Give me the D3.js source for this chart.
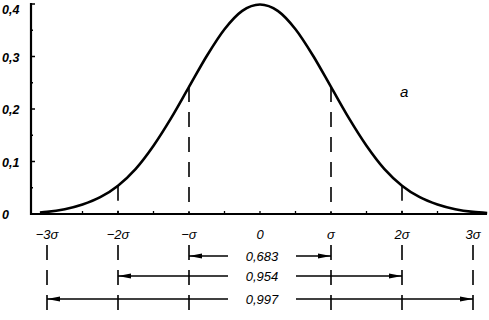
<!DOCTYPE html>
<html>
<head>
<meta charset="utf-8">
<script src="https://cdn.jsdelivr.net/npm/d3@7"></script>
<style>
  body { margin: 0; background: #fff; }
  svg text { font-family: "Liberation Sans", Arial, sans-serif; font-style: italic; fill: #000; }
</style>
</head>
<body>
<div id="chart"></div>
<script>
// curve values (sigma units, density)
var curveX = [-3.1, -3, -2.75, -2.5, -2.25, -2, -1.75, -1.5, -1.25, -1, -0.75, -0.5, -0.25, 0,
              0.25, 0.5, 0.75, 1, 1.25, 1.5, 1.75, 2, 2.25, 2.5, 2.75, 3, 3.2]
var curveY = [0.003, 0.004, 0.009, 0.018, 0.032, 0.054, 0.086, 0.130, 0.183, 0.242, 0.301, 0.352, 0.387, 0.399,
              0.387, 0.352, 0.301, 0.242, 0.183, 0.130, 0.086, 0.054, 0.032, 0.018, 0.009, 0.004, 0.002]

var sigmaTicks = [-3, -2, -1, 0, 1, 2, 3]
var sigmaLabels = ["−3σ", "−2σ", "−σ", "0", "σ", "2σ", "3σ"]
var yTicks = [0, 0.1, 0.2, 0.3, 0.4]
var yLabels = ["0", "0,1", "0,2", "0,3", "0,4"]

var intFrom = [-1, -2, -3]
var intTo = [1, 2, 3]
var intLabels = ["0,683", "0,954", "0,997"]

var width = 489, height = 320

var svg = d3.select("#chart").append("svg")
    .attr("width", width)
    .attr("height", height)

var x = d3.scaleLinear().domain([-3, 3]).range([47, 473])
var y = d3.scaleLinear().domain([0, 0.4]).range([214, 4])

var axisX0 = 31

// dashed verticals at the sigma marks: above the axis down from the curve, below it under the labels
var dashes = svg.append("g")
function dash(xx, y1, y2){
    dashes.append("line")
        .attr("x1", xx).attr("x2", xx)
        .attr("y1", y1).attr("y2", y2)
        .attr("stroke", "#000")
        .attr("stroke-width", 1.6)
        .attr("stroke-dasharray", "15,10")
}
sigmaTicks.forEach(function(s, i){
    if (s == 0) return
    if (Math.abs(s) < 3) dash(x(s), y(curveY[curveX.indexOf(s)]), y(0))
    dash(x(s), 245, height)
})

// axes
var axes = svg.append("g")
axes.append("line")
    .attr("x1", axisX0).attr("x2", axisX0)
    .attr("y1", 3).attr("y2", y(0) + 1)
    .attr("stroke", "#000").attr("stroke-width", 2.2)
axes.append("line")
    .attr("x1", axisX0).attr("x2", 487)
    .attr("y1", y(0)).attr("y2", y(0))
    .attr("stroke", "#000").attr("stroke-width", 2)

// y ticks, major + minor
d3.range(0, 0.401, 0.05).forEach(function(v){
    axes.append("line")
        .attr("x1", axisX0).attr("x2", axisX0 + (Math.round(v * 100) % 10 == 0 ? 4 : 2))
        .attr("y1", y(v)).attr("y2", y(v))
        .attr("stroke", "#000").attr("stroke-width", 1.5)
})
yTicks.forEach(function(v, i){
    axes.append("text")
        .attr("x", 2)
        .attr("y", Math.max(y(v) + 5, 14))
        .attr("font-size", 12.5)
        .attr("font-weight", "bold")
        .text(yLabels[i])
})

// x ticks every half sigma
d3.range(-3, 3.01, 0.5).forEach(function(s){
    axes.append("line")
        .attr("x1", x(s)).attr("x2", x(s))
        .attr("y1", y(0)).attr("y2", y(0) - 3)
        .attr("stroke", "#000").attr("stroke-width", 1.3)
})
sigmaTicks.forEach(function(s, i){
    axes.append("text")
        .attr("x", x(s))
        .attr("y", 239)
        .attr("text-anchor", "middle")
        .attr("font-size", 13)
        .text(sigmaLabels[i])
})

// the curve
var line = d3.line()
    .x(function(d, i){ return x(curveX[i]) })
    .y(function(d){ return y(d) })
    .curve(d3.curveMonotoneX)

svg.append("path")
    .datum(curveY)
    .attr("d", line)
    .attr("fill", "none")
    .attr("stroke", "#000")
    .attr("stroke-width", 2.6)

// interval arrows
var rowY = [256, 276, 299]
var arrows = svg.append("g")
intLabels.forEach(function(lab, i){
    var x1 = x(intFrom[i]), x2 = x(intTo[i]), cx = x(0), yy = rowY[i]
    var half = 32
    arrows.append("line")
        .attr("x1", x1).attr("x2", cx - half)
        .attr("y1", yy).attr("y2", yy)
        .attr("stroke", "#000").attr("stroke-width", 1.5)
    arrows.append("line")
        .attr("x1", cx + half + 4).attr("x2", x2)
        .attr("y1", yy).attr("y2", yy)
        .attr("stroke", "#000").attr("stroke-width", 1.5)
    // arrowheads pointing outward
    arrows.append("path")
        .attr("d", "M" + x1 + "," + yy + "L" + (x1 + 13) + "," + (yy - 2.5) + "L" + (x1 + 13) + "," + (yy + 2.5) + "Z")
        .attr("fill", "#000")
    arrows.append("path")
        .attr("d", "M" + x2 + "," + yy + "L" + (x2 - 13) + "," + (yy - 2.5) + "L" + (x2 - 13) + "," + (yy + 2.5) + "Z")
        .attr("fill", "#000")
    arrows.append("text")
        .attr("x", cx + 2)
        .attr("y", yy + 5)
        .attr("text-anchor", "middle")
        .attr("font-size", 13)
        .text(lab)
})

// panel letter
svg.append("text")
    .attr("x", 400)
    .attr("y", 97)
    .attr("font-size", 15)
    .attr("font-family", "DejaVu Serif")
    .text("a")
</script>
</body>
</html>
